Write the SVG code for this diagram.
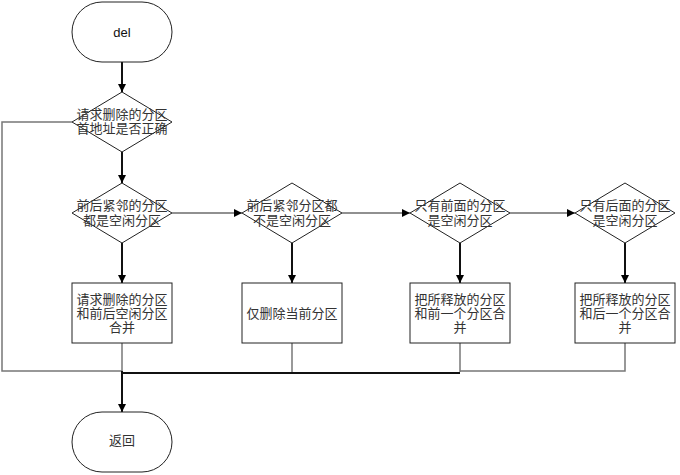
<svg xmlns="http://www.w3.org/2000/svg" width="680" height="475" viewBox="0 0 680 475">
<style>
.shape{fill:#fff;stroke:#222;stroke-width:1}
.t{font-family:"Liberation Serif","Noto Sans CJK SC",serif;font-size:13px;fill:#333;text-anchor:middle;dominant-baseline:central}
.s{font-family:"Liberation Sans","Noto Sans CJK SC",sans-serif;font-size:13px;fill:#111;text-anchor:middle;dominant-baseline:central}
.c{fill:none;stroke:#222;stroke-width:1.2}
.g{fill:none;stroke:#777;stroke-width:1.5}
.k{fill:none;stroke:#111;stroke-width:2}
</style>
<defs>
<marker id="a" viewBox="0 0 10 10" refX="10" refY="5" markerWidth="8" markerHeight="8" markerUnits="userSpaceOnUse" orient="auto">
<path d="M0,0 L10,5 L0,10 z" fill="#000"/>
</marker>
</defs>
<g id="connectors">
<line class="k" x1="122" y1="62" x2="122" y2="92" marker-end="url(#a)"/>
<polyline class="g" points="72,122 2,122 2,371 122,371"/>
<line class="k" x1="122" y1="152" x2="122" y2="183" marker-end="url(#a)"/>
<line class="c" x1="172" y1="213" x2="242" y2="213" marker-end="url(#a)"/>
<line class="c" x1="342" y1="213" x2="410" y2="213" marker-end="url(#a)"/>
<line class="c" x1="510" y1="213" x2="575" y2="213" marker-end="url(#a)"/>
<line class="k" x1="122" y1="243" x2="122" y2="283" marker-end="url(#a)"/>
<line class="k" x1="292" y1="243" x2="292" y2="283" marker-end="url(#a)"/>
<line class="k" x1="460" y1="243" x2="460" y2="283" marker-end="url(#a)"/>
<line class="k" x1="625" y1="243" x2="625" y2="283" marker-end="url(#a)"/>
<line class="g" x1="122" y1="343" x2="122" y2="371"/>
<line class="g" x1="292" y1="343" x2="292" y2="372"/>
<line class="g" x1="460" y1="343" x2="460" y2="372"/>
<polyline class="g" points="625,343 625,371 460,371"/>
<line class="k" x1="122" y1="373" x2="460" y2="373"/>
<line class="k" x1="122" y1="371" x2="122" y2="412" marker-end="url(#a)"/>
</g>
<g id="start">
<rect class="shape" x="72" y="2" width="100" height="60" rx="30" ry="30"/>
<text class="s" x="122" y="32">del</text>
</g>
<g id="check">
<polygon class="shape" points="122,92 172,122 122,152 72,122"/>
<text class="t" x="122" y="114">请求删除的分区</text>
<text class="t" x="122" y="128">首地址是否正确</text>
</g>
<g id="d1">
<polygon class="shape" points="122,183 172,213 122,243 72,213"/>
<text class="t" x="122" y="205">前后紧邻的分区</text>
<text class="t" x="122" y="220">都是空闲分区</text>
</g>
<g id="d2">
<polygon class="shape" points="292,183 342,213 292,243 242,213"/>
<text class="t" x="292" y="205">前后紧邻分区都</text>
<text class="t" x="292" y="220">不是空闲分区</text>
</g>
<g id="d3">
<polygon class="shape" points="460,183 510,213 460,243 410,213"/>
<text class="t" x="460" y="205">只有前面的分区</text>
<text class="t" x="460" y="220">是空闲分区</text>
</g>
<g id="d4">
<polygon class="shape" points="625,183 675,213 625,243 575,213"/>
<text class="t" x="625" y="205">只有后面的分区</text>
<text class="t" x="625" y="220">是空闲分区</text>
</g>
<g id="b1">
<rect class="shape" x="72" y="283" width="100" height="60"/>
<text class="t" x="122" y="299">请求删除的分区</text>
<text class="t" x="122" y="313">和前后空闲分区</text>
<text class="t" x="122" y="327">合并</text>
</g>
<g id="b2">
<rect class="shape" x="242" y="283" width="100" height="60"/>
<text class="t" x="292" y="313">仅删除当前分区</text>
</g>
<g id="b3">
<rect class="shape" x="410" y="283" width="100" height="60"/>
<text class="t" x="460" y="299">把所释放的分区</text>
<text class="t" x="460" y="313">和前一个分区合</text>
<text class="t" x="460" y="327">并</text>
</g>
<g id="b4">
<rect class="shape" x="575" y="283" width="100" height="60"/>
<text class="t" x="625" y="299">把所释放的分区</text>
<text class="t" x="625" y="313">和后一个分区合</text>
<text class="t" x="625" y="327">并</text>
</g>
<g id="end">
<rect class="shape" x="72" y="412" width="100" height="60" rx="30" ry="30"/>
<text class="t" x="122" y="440">返回</text>
</g>
</svg>
